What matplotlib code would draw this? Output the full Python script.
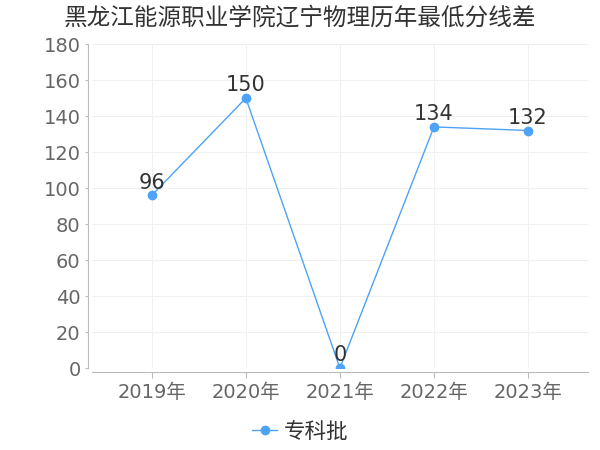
import matplotlib
matplotlib.use('Agg')
import matplotlib.pyplot as plt

plt.rcParams['font.family'] = ['DejaVu Sans', 'Noto Sans CJK SC']

years = ['2019年', '2020年', '2021年', '2022年', '2023年']
values = [96, 150, 0, 134, 132]
series_name = '专科批'
title = '黑龙江能源职业学院辽宁物理历年最低分线差'
yticks = [0, 20, 40, 60, 80, 100, 120, 140, 160, 180]

color = '#4DA3F7'

fig = plt.figure(figsize=(6, 4.5), dpi=100)
ax = fig.add_axes([0.153, 0.182, 0.827, 0.72])

x = list(range(len(years)))
ax.plot(x, values, color=color, lw=1, marker='o', ms=6, label=series_name, zorder=3)
for xi, v in zip(x, values):
    ax.annotate(str(v), (xi, v), xytext=(0, 2), textcoords='offset points',
                ha='center', va='bottom', fontsize=15, color='#333333', zorder=4)

ax.set_xlim(-0.638, 4.638)
ax.set_ylim(0, 180)
ax.set_xticks(x)
ax.set_xticklabels(years)
ax.set_yticks(yticks)
ax.grid(True, color='#f0f0f0', lw=0.8)
ax.set_axisbelow(True)

for s in ['top', 'right']:
    ax.spines[s].set_visible(False)
for s in ['left', 'bottom']:
    ax.spines[s].set_color('#bbbbbb')
    ax.spines[s].set_position(('outward', 3))
ax.tick_params(axis='both', colors='#bbbbbb', labelcolor='#666666', labelsize=14, length=4)
ax.tick_params(axis='y', length=2.5, pad=2.5)

fig.text(0.5, 0.96, title, ha='center', va='center', color='#333333',
         family=['Noto Sans CJK SC', 'DejaVu Sans'], fontsize=17)

fig.legend(loc='center', bbox_to_anchor=(0.5, 0.04), frameon=False,
           handlelength=1.2, handletextpad=0.3, labelcolor='#333333',
           prop={'family': ['Noto Sans CJK SC', 'DejaVu Sans'], 'size': 15.5})

fig.savefig('out.png', dpi=100)
